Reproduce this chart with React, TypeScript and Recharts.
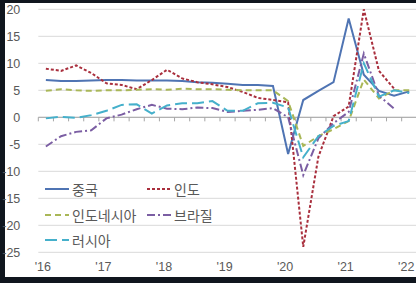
import React from 'react';
import { LineChart, Line, XAxis, YAxis, CartesianGrid, ReferenceLine } from 'recharts';

// 분기별 실질 GDP 성장률 (전년동기비, %)
const quarters = [
  '2016Q1', '2016Q2', '2016Q3', '2016Q4',
  '2017Q1', '2017Q2', '2017Q3', '2017Q4',
  '2018Q1', '2018Q2', '2018Q3', '2018Q4',
  '2019Q1', '2019Q2', '2019Q3', '2019Q4',
  '2020Q1', '2020Q2', '2020Q3', '2020Q4',
  '2021Q1', '2021Q2', '2021Q3', '2021Q4',
  '2022Q1',
];
const yTicks = [-25, -20, -15, -10, -5, 0, 5, 10, 15, 20];

const china = [6.9, 6.7, 6.7, 6.8, 6.9, 6.9, 6.8, 6.8, 6.8, 6.7, 6.5, 6.4, 6.2, 6.0, 6.0, 5.8, -6.8, 3.2, 4.9, 6.5, 18.3, 7.9, 4.9, 4.0, 4.8];
const india = [9.0, 8.6, 9.6, 8.2, 6.3, 6.0, 5.2, 6.9, 8.8, 7.2, 6.5, 6.1, 5.6, 4.7, 3.6, 3.2, 2.8, -24.0, -7.3, 0.2, 2.0, 20.0, 8.6, 5.3, null];
const indonesia = [4.9, 5.2, 5.0, 4.9, 5.0, 5.0, 5.1, 5.2, 5.1, 5.3, 5.2, 5.2, 5.1, 5.0, 5.0, 5.0, 3.0, -5.3, -3.5, -2.2, -0.7, 7.0, 3.5, 5.0, 5.0];
const brazil = [-5.4, -3.5, -2.7, -2.4, -0.2, 0.5, 1.5, 2.3, 1.6, 1.5, 1.8, 1.7, 1.0, 1.2, 1.4, 1.7, 0.0, -10.7, -3.9, -1.1, 1.0, 11.8, 4.0, 1.6, null];
const russia = [-0.2, 0.1, -0.1, 0.4, 1.2, 2.3, 2.4, 0.7, 2.2, 2.6, 2.6, 3.0, 1.2, 1.2, 2.6, 2.7, 1.8, -7.4, -3.5, -1.6, -0.7, 10.0, 3.8, 5.0, 4.5];

const series = [
  { key: 'china', name: '중국', color: '#4f74b3', dash: undefined },
  { key: 'india', name: '인도', color: '#a92f3d', dash: '3 2' },
  { key: 'indonesia', name: '인도네시아', color: '#a9b757', dash: '6 4' },
  { key: 'brazil', name: '브라질', color: '#7b5ea3', dash: '8 3 2 3' },
  { key: 'russia', name: '러시아', color: '#45b0cb', dash: '12 5' },
];

const rows = quarters.map((q, i) => ({
  i,
  q,
  china: china[i],
  india: india[i],
  indonesia: indonesia[i],
  brazil: brazil[i],
  russia: russia[i],
}));

const yearTicks = quarters.map((q, i) => (q.endsWith('Q1') ? i : -1)).filter(i => i >= 0);
const boundaries = Array.from({ length: quarters.length + 1 }, (_, k) => k - 0.5);

const textColor = '#595959';
const font = '"Liberation Sans", "Noto Sans CJK KR", sans-serif';

// 범례 배치 (2열)
const legendRows = [
  [series[0], series[1]],
  [series[2], series[3]],
  [series[4]],
];

const LegendItem = ({ s }: { s: typeof series[number] }) => (
  <div style={{ display: 'flex', alignItems: 'center', width: 102 }}>
    <svg width={25} height={10}>
      <line x1={0} y1={5} x2={24} y2={5} stroke={s.color} strokeWidth={2} strokeDasharray={s.dash} />
    </svg>
    <span style={{ marginLeft: 2, fontSize: 14, color: textColor, fontFamily: '"Noto Sans CJK KR", sans-serif' }}>{s.name}</span>
  </div>
);

export default function App() {
  return (
    <div style={{ position: 'absolute', left: 0, top: 0, width: 416, height: 283, background: '#10161e', overflow: 'hidden', fontFamily: font }}>
      <div style={{ position: 'absolute', left: 5, top: 3, width: 411, height: 274, background: '#ffffff' }} />
      <div style={{ position: 'absolute', left: 0, top: 0 }}>
        <LineChart width={420} height={283} data={rows} margin={{ top: 9.3, right: 3.2, bottom: 0, left: 0 }}>
          <CartesianGrid vertical={false} stroke="#d9d9d9" />
          <XAxis
            type="number"
            dataKey="i"
            domain={[-0.5, quarters.length - 0.5]}
            ticks={yearTicks}
            interval={0}
            tickFormatter={(i: number) => "'" + quarters[i].slice(2, 4)}
            axisLine={false}
            tickLine={false}
            tickSize={0}
            tickMargin={10}
            height={30.7}
            tick={{ fill: textColor, fontSize: 12.5, dx: -3 }}
          />
          <YAxis
            domain={[-25, 20]}
            ticks={yTicks}
            interval={0}
            axisLine={false}
            tickLine={false}
            tickSize={0}
            tickMargin={18}
            width={38.3}
            tick={{ fill: textColor, fontSize: 12.5 }}
          />
          <ReferenceLine y={0} stroke="#a6a6a6" strokeWidth={1} />
          {boundaries.map(b => (
            <ReferenceLine key={b} segment={[{ x: b, y: 0 }, { x: b, y: -0.75 }]} stroke="#a6a6a6" ifOverflow="visible" />
          ))}
          {series.map(s => (
            <Line
              key={s.key}
              type="linear"
              dataKey={s.key}
              name={s.name}
              stroke={s.color}
              strokeWidth={2}
              strokeDasharray={s.dash}
              dot={false}
              isAnimationActive={false}
            />
          ))}
        </LineChart>
      </div>
      <div style={{ position: 'absolute', left: 45, top: 176 }}>
        {legendRows.map((r, k) => (
          <div key={k} style={{ display: 'flex', height: 25.8 }}>
            {r.map(s => (
              <LegendItem key={s.key} s={s} />
            ))}
          </div>
        ))}
      </div>
    </div>
  );
}
